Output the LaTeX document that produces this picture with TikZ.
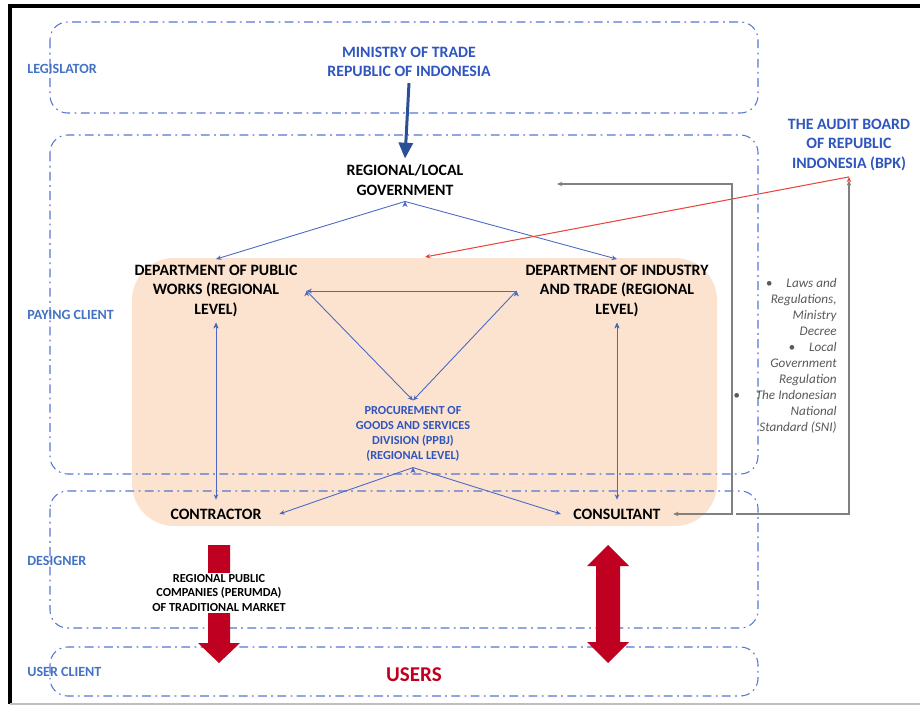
\documentclass[tikz,border=0pt]{standalone}
\usepackage{fontspec}
\setmainfont{Carlito}
\usetikzlibrary{arrows.meta}

\definecolor{zoneblue}{HTML}{5575D2}
\definecolor{labelblue}{HTML}{4472C4}
\definecolor{headblue}{HTML}{2F56BE}
\definecolor{linkblue}{HTML}{4A68C4}
\definecolor{arrowblue}{HTML}{2B4F94}
\definecolor{peach}{HTML}{FBE3D0}
\definecolor{usersred}{HTML}{C00020}
\definecolor{auditred}{HTML}{E8483C}
\definecolor{lawgray}{HTML}{595959}

\begin{document}
\begin{tikzpicture}[x=0.02cm,y=-0.02cm,
    zone/.style={draw=zoneblue,line width=0.6pt,dash pattern=on 5pt off 2.5pt on 1pt off 2.5pt,rounded corners=10pt},
    rolelabel/.style={text=labelblue,font=\fontsize{8}{10}\selectfont\bfseries,anchor=west,inner xsep=0pt},
    actor/.style={font=\fontsize{9}{11}\selectfont\bfseries,align=center},
    bluelink/.style={draw=linkblue,line width=0.5pt,-{Stealth[length=3pt,width=2.6pt]}},
    graylink/.style={draw=gray,line width=0.7pt}]
    \useasboundingbox (0,0) rectangle (920,706);

    % frame
    \draw[line width=2pt] (10,704) -- (10,6) -- (935,6);
    \draw[black!25,line width=0.6pt] (10,704) -- (935,704);

    % shaded region behind the departments
    \fill[peach,rounded corners=24pt] (132,258) rectangle (717,526);

    % client zones
    \draw[zone] (50,22) rectangle (758,113);
    \draw[zone] (50,135) rectangle (758,474);
    \draw[zone] (50,491) rectangle (758,628);
    \draw[zone] (50,647) rectangle (758,696);

    \node[rolelabel] (legis) at (27,69)  {LEGISLATOR};
    \node[rolelabel] (paying) at (27,315) {PAYING CLIENT};
    \node[rolelabel] (design) at (27,561) {DESIGNER};
    \node[rolelabel] (userc) at (27,672) {USER CLIENT};

    % actors
    \node[actor,text=headblue] (ministry) at (409,62) {MINISTRY OF TRADE\\REPUBLIC OF INDONESIA};
    \node[actor] (gov) at (405,180) {REGIONAL/LOCAL\\GOVERNMENT};
    \node[actor,text=headblue] (bpk) at (849,145) {THE AUDIT BOARD\\OF REPUBLIC\\INDONESIA (BPK)};
    \node[actor,inner xsep=5pt] (dpw) at (216,291) {DEPARTMENT OF PUBLIC\\WORKS (REGIONAL\\LEVEL)};
    \node[actor,inner xsep=5pt] (dit) at (617,291) {DEPARTMENT OF INDUSTRY\\AND TRADE (REGIONAL\\LEVEL)};
    \node[actor,text=headblue,font=\fontsize{7}{8.5}\selectfont\bfseries] (ppbj) at (413,434) {PROCUREMENT OF\\GOODS AND SERVICES\\DIVISION (PPBJ)\\(REGIONAL LEVEL)};
    \node[actor,inner xsep=10pt,inner ysep=5pt] (contr) at (216,514) {CONTRACTOR};
    \node[actor,inner xsep=7pt,inner ysep=5pt] (cons) at (617,514) {CONSULTANT};
    \node[text=usersred,font=\fontsize{12}{14}\selectfont\bfseries] (users) at (414,675) {USERS};
    \node[text=lawgray,font=\fontsize{7.5}{9.1}\selectfont\itshape,align=right,inner sep=0pt,anchor=east] (laws) at (837,356)
        {\textbullet\hspace{8pt}Laws and\\Regulations,\\Ministry\\Decree\\\textbullet\hspace{8pt}Local\\Government\\Regulation\\\llap{\textbullet\hspace{9pt}}The Indonesian\\National\\Standard (SNI)};

    \coordinate (govfeed) at (557,184);
    \coordinate (lawsfoot) at (736,514);
    \coordinate (auditin) at (425,257);

    % connectors
    \draw[arrowblue,line width=1.7pt,-{Triangle[length=9pt,width=8pt]}] (ministry.south) -- (gov.north);
    \path[bluelink] (gov.south) edge (dpw.north);
    \path[bluelink] (gov.south) edge (dit.north);
    \path[bluelink] (dit.west) edge (dpw.east);
    \path[bluelink] (dpw.east) edge (ppbj.north);
    \path[bluelink] (dit.west) edge (ppbj.north);
    \path[bluelink,{Stealth[length=3pt,width=2.6pt]}-{Stealth[length=3pt,width=2.6pt]}] (dpw.south) edge (contr.north);
    \path[bluelink,{Stealth[length=3pt,width=2.6pt]}-{Stealth[length=3pt,width=2.6pt]}] (dit.south) edge (cons.north);
    \path[bluelink] (ppbj.south) edge (contr.east);
    \path[bluelink] (ppbj.south) edge (cons.west);
    \path[draw=auditred,line width=0.6pt,-{Stealth[length=3pt,width=2.6pt]}] (bpk.south) edge (auditin);
    \draw[graylink,{Stealth[length=3pt,width=2.6pt]}-{Stealth[length=3pt,width=2.6pt]}] (cons.east) -| (732,184) -- (govfeed);
    \draw[graylink,-{Stealth[length=3pt,width=2.6pt]},shorten >=2pt] (lawsfoot) -| (bpk.south);

    % block arrows to the users
    \fill[usersred] (208,545) -- (230,545) -- (230,643) -- (240,643) -- (219,663) -- (198,643) -- (208,643) -- cycle;
    \node[actor,font=\fontsize{7}{8.3}\selectfont\bfseries,fill=white,inner sep=1pt] (perumda) at (219,593)
        {REGIONAL PUBLIC\\COMPANIES (PERUMDA)\\OF TRADITIONAL MARKET};
    \fill[usersred] (608,545) -- (629,566) -- (620,566) -- (620,642) -- (629,642) -- (608,663)
        -- (587,642) -- (596,642) -- (596,566) -- (587,566) -- cycle;
\end{tikzpicture}
\end{document}
